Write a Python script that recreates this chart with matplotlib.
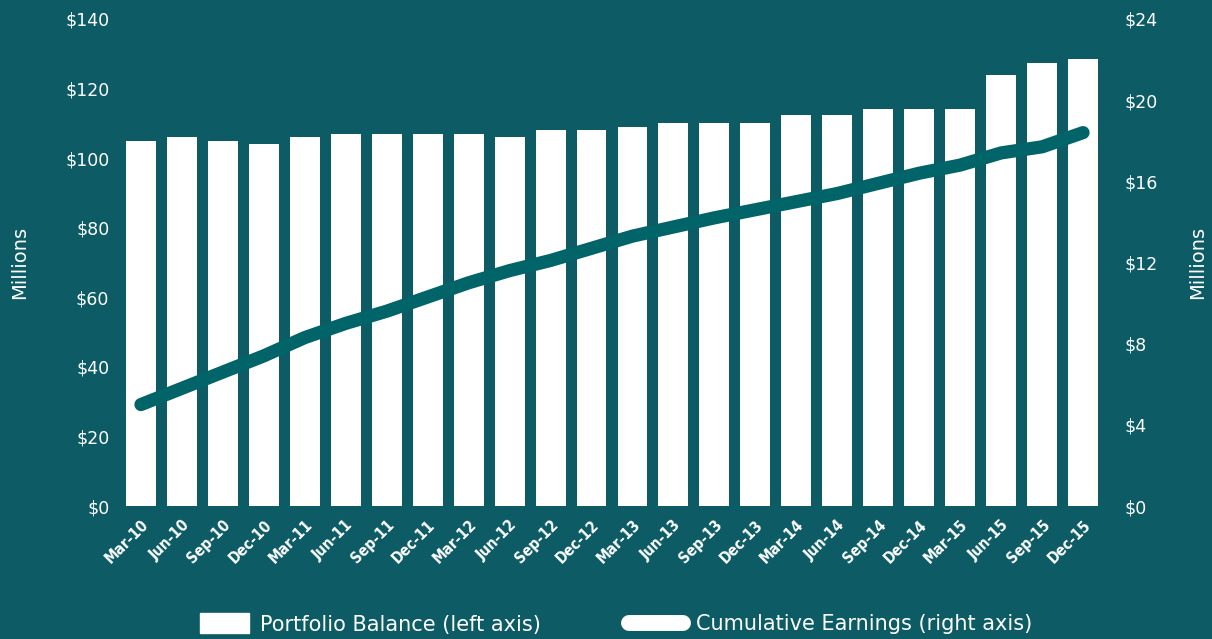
import matplotlib
matplotlib.use("Agg")
import matplotlib.pyplot as plt
from matplotlib.patches import Patch
from matplotlib.lines import Line2D
import numpy as np

quarters = ["Mar-10", "Jun-10", "Sep-10", "Dec-10", "Mar-11", "Jun-11", "Sep-11", "Dec-11",
            "Mar-12", "Jun-12", "Sep-12", "Dec-12", "Mar-13", "Jun-13", "Sep-13", "Dec-13",
            "Mar-14", "Jun-14", "Sep-14", "Dec-14", "Mar-15", "Jun-15", "Sep-15", "Dec-15"]
portfolio_balance = [105, 106, 105, 104, 106, 107, 107, 107, 107, 106, 108, 108,
                     109, 110, 110, 110, 112.5, 112.5, 114, 114, 114, 124, 127.3, 128.5]
cumulative_earnings = [5.0, 5.8, 6.6, 7.4, 8.3, 9.0, 9.6, 10.3, 11.0, 11.6, 12.1, 12.7,
                       13.3, 13.75, 14.2, 14.6, 15.0, 15.4, 15.9, 16.4, 16.8, 17.4, 17.7, 18.4]
left_ticks = [0, 20, 40, 60, 80, 100, 120, 140]
right_ticks = [0, 4, 8, 12, 16, 20, 24]

BG = "#0c5b65"
LINE = "#006468"
FONT = ["DejaVu Sans"]

fig = plt.figure(figsize=(12.12, 6.39), dpi=100, facecolor=BG)
ax = fig.add_axes([0.0994, 0.2081, 0.8111, 0.7622])
ax.set_facecolor(BG)
x = np.arange(len(quarters))
ax.bar(x, portfolio_balance, width=0.73, color="white", zorder=2)
ax.set_xlim(-0.5, len(quarters) - 0.5)
ax.set_ylim(0, 140)
ax.set_yticks(left_ticks)
ax.set_yticklabels([f"${v}" for v in left_ticks], fontsize=12.5, color="white", family=FONT)
ax.set_xticks(x)
ax.set_xticklabels(quarters, rotation=45, ha="right", rotation_mode="anchor",
                   fontsize=11, fontweight="bold", color="white",
                   family=["DejaVu Sans"], fontstretch="condensed")
for lbl in ax.get_xticklabels():
    lbl.set_transform(lbl.get_transform() + matplotlib.transforms.ScaledTranslation(0.11, -0.07, fig.dpi_scale_trans))
ax.tick_params(axis="y", length=0, pad=8)
ax.tick_params(axis="x", length=0, pad=8)
for s in ax.spines.values():
    s.set_visible(False)
ax.set_ylabel("Millions", fontsize=14, color="white", family=FONT, labelpad=26)

ax2 = ax.twinx()
ax2.plot(x, cumulative_earnings, color=LINE, linewidth=9.5, solid_capstyle="round",
         solid_joinstyle="round", zorder=3)
ax2.set_ylim(0, 24)
ax2.set_yticks(right_ticks)
ax2.set_yticklabels([f"${v}" for v in right_ticks], fontsize=12.5, color="white", family=FONT)
ax2.tick_params(axis="both", length=0, pad=15)
for s in ax2.spines.values():
    s.set_visible(False)
ax2.set_ylabel("Millions", fontsize=14, color="white", family=FONT, labelpad=22, rotation=90)

leg_y = 1 - 624 / 639
leg1 = fig.legend(handles=[Patch(facecolor="white", edgecolor="white",
                                 label="Portfolio Balance (left axis)")],
                  loc="center left", bbox_to_anchor=(200 / 1212, leg_y), frameon=False,
                  borderpad=0, borderaxespad=0, handlelength=2.35, handleheight=1.1,
                  handletextpad=0.55, prop={"family": FONT, "size": 15})
leg2 = fig.legend(handles=[Line2D([0], [0], color="white", linewidth=11.5, solid_capstyle="round",
                                  label="Cumulative Earnings (right axis)")],
                  loc="center left", bbox_to_anchor=(629 / 1212, leg_y), frameon=False,
                  borderpad=0, borderaxespad=0, handlelength=2.6,
                  handletextpad=0.6, prop={"family": FONT, "size": 15})
for leg in (leg1, leg2):
    for t in leg.get_texts():
        t.set_color("white")

fig.savefig("out.png", dpi=100, facecolor=BG)
